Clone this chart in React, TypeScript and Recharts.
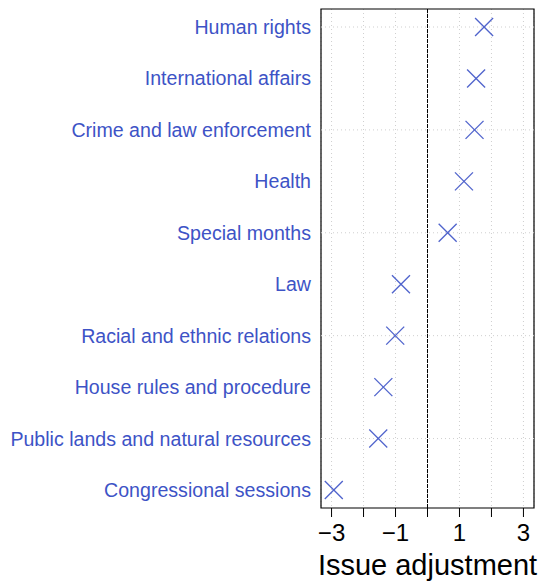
import React from 'react';
import { ScatterChart, Scatter, XAxis, YAxis, CartesianGrid, ReferenceLine, ReferenceArea, Label } from 'recharts';

const categories = [
  'Human rights',
  'International affairs',
  'Crime and law enforcement',
  'Health',
  'Special months',
  'Law',
  'Racial and ethnic relations',
  'House rules and procedure',
  'Public lands and natural resources',
  'Congressional sessions',
];
const adjustments = [1.77, 1.52, 1.47, 1.14, 0.63, -0.83, -1.01, -1.38, -1.54, -2.93];
const xTicks = [-3, -2, -1, 0, 1, 2, 3];
const labeledTicks = [-3, -1, 1, 3];
const gridRows = ['Human rights', 'Crime and law enforcement', 'Special months', 'Racial and ethnic relations', 'Public lands and natural resources'];

const n = categories.length;
const data = categories.map((c, i) => ({ name: c, x: adjustments[i], y: n - i }));
const yTicks = categories.map((_, i) => n - i);
const X_DOMAIN: [number, number] = [-3.33, 3.33];
const Y_DOMAIN: [number, number] = [0.65, n + 0.35];

const FONT = '"Liberation Sans", Arial, sans-serif';
const BLUE_TEXT = '#3d53c6';
const BLUE_MARK = '#4f63cc';

const Cross = (props: any) => {
  const { cx, cy } = props;
  const r = 9;
  return (
    <g stroke={BLUE_MARK} strokeWidth={1.3}>
      <line x1={cx - r} y1={cy - r} x2={cx + r} y2={cy + r} />
      <line x1={cx - r} y1={cy + r} x2={cx + r} y2={cy - r} />
    </g>
  );
};

const fmtX = (v: number) => (labeledTicks.includes(v) ? (v < 0 ? '\u2212' + Math.abs(v) : String(v)) : '');
const fmtY = (v: number) => categories[n - v] ?? '';

export default function App() {
  return (
    <div style={{ position: 'absolute', left: 0, top: 0, background: '#fff' }}>
      <ScatterChart width={541} height={582} margin={{ top: 9, right: 7, bottom: 0, left: 0 }}>
        <CartesianGrid horizontal={false} vertical={true} stroke="#cfcfcf" strokeDasharray="1 3" />
        {gridRows.map((g) => (
          <ReferenceLine key={g} y={n - categories.indexOf(g)} stroke="#cfcfcf" strokeDasharray="1 3" />
        ))}
        <XAxis
          type="number"
          dataKey="x"
          domain={X_DOMAIN}
          ticks={xTicks}
          tickFormatter={fmtX}
          interval={0}
          allowDataOverflow
          height={74}
          tickSize={9}
          tickMargin={7}
          axisLine={false}
          tickLine={{ stroke: '#000' }}
          tick={{ fill: '#000', fontSize: 24, fontFamily: FONT }}
        >
          <Label value="Issue adjustment" position="insideBottom" offset={7} style={{ fill: '#000', fontSize: 29, fontFamily: FONT }} />
        </XAxis>
        <YAxis
          type="number"
          dataKey="y"
          domain={Y_DOMAIN}
          ticks={yTicks}
          tickFormatter={fmtY}
          interval={0}
          allowDataOverflow
          width={321}
          tickSize={0}
          tickMargin={10}
          axisLine={false}
          tickLine={false}
          tick={{ fill: BLUE_TEXT, fontSize: 19.6, fontFamily: FONT }}
        />
        <ReferenceLine x={0} stroke="#000" strokeWidth={1} strokeDasharray="4 1" />
        <ReferenceArea x1={X_DOMAIN[0]} x2={X_DOMAIN[1]} y1={Y_DOMAIN[0]} y2={Y_DOMAIN[1]} fill="none" fillOpacity={0} stroke="#000" strokeWidth={1.2} />
        <Scatter data={data} shape={Cross} isAnimationActive={false} />
      </ScatterChart>
    </div>
  );
}
